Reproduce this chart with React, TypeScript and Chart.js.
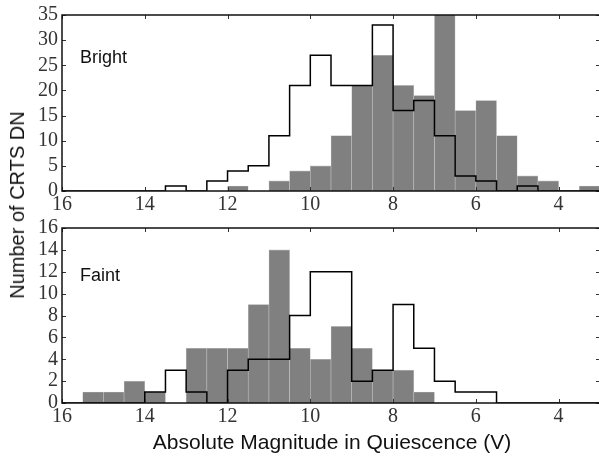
import React, { useEffect, useRef } from "react";
import { Chart, registerables } from "chart.js";

Chart.register(...registerables);

// Bin edges of the magnitude histograms (0.5 mag bins), from faint to bright
const binEdges = [16, 15.5, 15, 14.5, 14, 13.5, 13, 12.5, 12, 11.5, 11, 10.5, 10, 9.5, 9, 8.5, 8, 7.5, 7, 6.5, 6, 5.5, 5, 4.5, 4, 3.5, 3];

// Counts per bin (one value per bin, same order as binEdges)
const brightFilled = [0, 0, 0, 0, 0, 0, 0, 0, 1, 0, 2, 4, 5, 11, 21, 27, 21, 19, 36, 16, 18, 11, 3, 2, 0, 1];
const brightOutline = [0, 0, 0, 0, 0, 1, 0, 2, 4, 5, 11, 21, 27, 21, 21, 33, 16, 18, 11, 3, 2, 0, 1, 0, 0, 0];
const faintFilled = [0, 1, 1, 2, 1, 0, 5, 5, 5, 9, 14, 5, 4, 7, 5, 3, 3, 1, 0, 0, 0, 0, 0, 0, 0, 0];
const faintOutline = [0, 0, 0, 0, 1, 3, 1, 0, 3, 4, 4, 8, 12, 12, 2, 3, 9, 5, 2, 1, 1, 0, 0, 0, 0, 0];

const xTicks = [16, 14, 12, 10, 8, 6, 4];
const brightYTicks = [0, 5, 10, 15, 20, 25, 30, 35];
const faintYTicks = [0, 2, 4, 6, 8, 10, 12, 14, 16];

const panelLabels = ["Bright", "Faint"];
const yTitle = "Number of CRTS DN";
const xTitle = "Absolute Magnitude in Quiescence (V)";

const serif = "'Liberation Serif', 'Times New Roman', serif";
const sans = "'Liberation Sans', Arial, Helvetica, sans-serif";

const frameTicks = {
  id: "frameTicks",
  afterDatasetsDraw(chart: any) {
    const { ctx, chartArea: a, scales } = chart;
    const x = scales.x;
    const y = scales.y;
    ctx.save();
    ctx.strokeStyle = "#333";
    ctx.lineWidth = 1;
    ctx.beginPath();
    x.ticks.forEach((t: any) => {
      const px = Math.round(x.getPixelForValue(t.value)) + 0.5;
      ctx.moveTo(px, a.bottom);
      ctx.lineTo(px, a.bottom - 4);
      ctx.moveTo(px, a.top);
      ctx.lineTo(px, a.top + 4);
    });
    y.ticks.forEach((t: any) => {
      const py = Math.round(y.getPixelForValue(t.value)) + 0.5;
      ctx.moveTo(a.left, py);
      ctx.lineTo(a.left + 4, py);
      ctx.moveTo(a.right, py);
      ctx.lineTo(a.right - 4, py);
    });
    ctx.stroke();
    ctx.strokeStyle = "#111";
    ctx.lineWidth = 1.5;
    ctx.strokeRect(a.left, a.top, a.right - a.left, a.bottom - a.top);
    ctx.restore();
  },
};

function makePanel(
  canvas: HTMLCanvasElement,
  filled: number[],
  outline: number[],
  yMax: number,
  yTicks: number[],
  padTop: number,
  xAxisHeight: number
) {
  const barData = filled.map((v, i) => ({ x: (binEdges[i] + binEdges[i + 1]) / 2, y: v }));
  const stepData = binEdges.map((e, i) => ({ x: e, y: i < outline.length ? outline[i] : 0 }));
  return new Chart(canvas, {
    type: "bar",
    data: {
      datasets: [
        {
          type: "line",
          data: stepData,
          stepped: "before",
          borderColor: "#000",
          borderWidth: 1.5,
          pointRadius: 0,
          fill: false,
          order: 1,
        } as any,
        {
          type: "bar",
          data: barData,
          backgroundColor: "#808080",
          borderColor: "#c4c4c4",
          borderWidth: 0.6,
          barPercentage: 1,
          categoryPercentage: 1,
          order: 2,
        } as any,
      ],
    },
    options: {
      responsive: false,
      animation: false,
      layout: { padding: { top: padTop, right: 2, left: 0, bottom: 0 } },
      plugins: { legend: { display: false }, tooltip: { enabled: false } },
      scales: {
        x: {
          type: "linear",
          reverse: true,
          min: 3,
          max: 16,
          offset: false,
          grid: { display: false, drawTicks: false },
          border: { display: false },
          afterBuildTicks: (s: any) => {
            s.ticks = xTicks.map((v) => ({ value: v }));
          },
          afterFit: (s: any) => {
            s.height = xAxisHeight;
          },
          ticks: {
            padding: 4,
            color: "#333",
            maxRotation: 0,
            autoSkip: false,
            font: { family: serif, size: 20, lineHeight: 1 },
            callback: (v: any) => String(v),
          },
        },
        y: {
          type: "linear",
          min: 0,
          max: yMax,
          grid: { display: false, drawTicks: false },
          border: { display: false },
          afterBuildTicks: (s: any) => {
            s.ticks = yTicks.map((v) => ({ value: v }));
          },
          afterFit: (s: any) => {
            s.width = 62;
          },
          ticks: {
            padding: 4,
            color: "#333",
            autoSkip: false,
            font: { family: serif, size: 20, lineHeight: 1 },
            callback: (v: any) => String(v),
          },
        },
      },
    },
    plugins: [frameTicks],
  } as any);
}

export default function App() {
  const topRef = useRef<HTMLCanvasElement>(null);
  const botRef = useRef<HTMLCanvasElement>(null);

  useEffect(() => {
    const c1 = makePanel(topRef.current!, brightFilled, brightOutline, 35, brightYTicks, 15, 29);
    const c2 = makePanel(botRef.current!, faintFilled, faintOutline, 16, faintYTicks, 12, 53);
    return () => {
      c1.destroy();
      c2.destroy();
    };
  }, []);

  const labelStyle: any = {
    position: "absolute",
    left: 80,
    fontFamily: sans,
    fontSize: 18,
    lineHeight: "18px",
    color: "#111",
    whiteSpace: "nowrap",
  };

  return (
    <div
      style={{
        position: "fixed",
        left: 0,
        top: 0,
        width: 599,
        height: 456,
        overflow: "hidden",
        background: "#fff",
      }}
    >
      <canvas
        ref={topRef}
        width={602}
        height={220}
        style={{ position: "absolute", left: 0, top: 0, width: 602, height: 220 }}
      />
      <canvas
        ref={botRef}
        width={602}
        height={242}
        style={{ position: "absolute", left: 0, top: 214, width: 602, height: 242 }}
      />
      <div style={{ ...labelStyle, top: 48 }}>{panelLabels[0]}</div>
      <div style={{ ...labelStyle, top: 266 }}>{panelLabels[1]}</div>
      <div
        style={{
          position: "absolute",
          left: 17,
          top: 205,
          transform: "translate(-50%, -50%) rotate(-90deg)",
          fontFamily: sans,
          fontSize: 20,
          lineHeight: "20px",
          color: "#111",
          whiteSpace: "nowrap",
        }}
      >
        {yTitle}
      </div>
      <div
        style={{
          position: "absolute",
          left: 332,
          top: 441,
          transform: "translate(-50%, -50%)",
          fontFamily: sans,
          fontSize: 21,
          lineHeight: "21px",
          color: "#111",
          whiteSpace: "nowrap",
        }}
      >
        {xTitle}
      </div>
    </div>
  );
}
